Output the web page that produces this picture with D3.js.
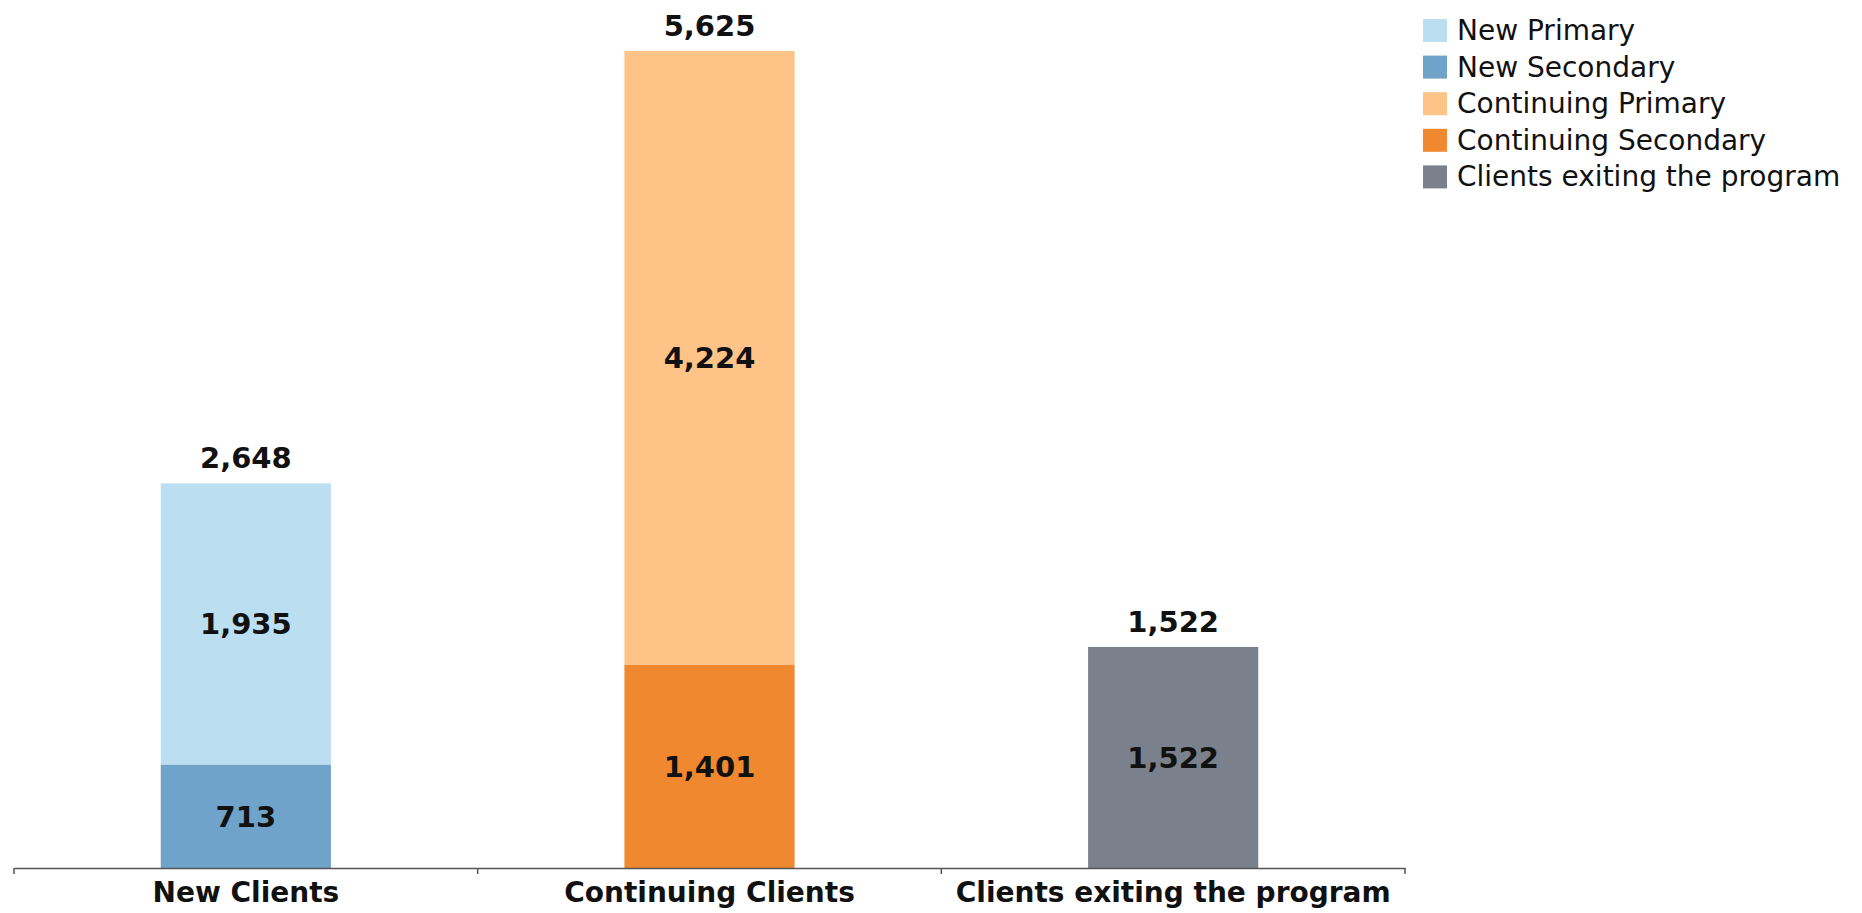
<!DOCTYPE html>
<html>
<head>
<meta charset="utf-8">
<script src="https://cdn.jsdelivr.net/npm/d3@7"></script>
<style>
  body { margin: 0; background: #fff; }
  text { font-family: "DejaVu Sans", Verdana, sans-serif; }
</style>
</head>
<body>
<div id="chart"></div>
<script>
// data
const categories = ["New Clients", "Continuing Clients", "Clients exiting the program"]
const seriesNames = ["New Primary", "New Secondary", "Continuing Primary", "Continuing Secondary", "Clients exiting the program"]
const newPrimary = [1935, 0, 0]
const newSecondary = [713, 0, 0]
const continuingPrimary = [0, 4224, 0]
const continuingSecondary = [0, 1401, 0]
const exiting = [0, 0, 1522]
const totals = [2648, 5625, 1522]

const colors = {
  "New Primary": "#bbdff1",
  "New Secondary": "#6fa3c9",
  "Continuing Primary": "#fec386",
  "Continuing Secondary": "#f0882f",
  "Clients exiting the program": "#7a808c"
}

const width = 1862, height = 913
const margin = { left: 14, right: 457, top: 51, bottom: 45 }

let rows = categories.map((c, i) => ({
  category: c,
  "New Primary": newPrimary[i],
  "New Secondary": newSecondary[i],
  "Continuing Primary": continuingPrimary[i],
  "Continuing Secondary": continuingSecondary[i],
  "Clients exiting the program": exiting[i]
}))

// secondary on the bottom, primary on top
let stackKeys = ["New Secondary", "New Primary", "Continuing Secondary", "Continuing Primary", "Clients exiting the program"]
let stacked = d3.stack().keys(stackKeys)(rows)

let x = d3.scaleBand()
  .domain(categories)
  .range([margin.left, width - margin.right])
  .paddingInner(0)
  .paddingOuter(0)

let y = d3.scaleLinear()
  .domain([0, d3.max(totals)])
  .range([height - margin.bottom, margin.top])

let barW = x.bandwidth() * 0.367

let svg = d3.select("#chart")
  .append("svg")
  .attr("width", width)
  .attr("height", height)

let layers = svg.append("g").selectAll("g")
  .data(stacked)
  .join("g")
  .attr("fill", d => colors[d.key])

layers.selectAll("rect")
  .data(d => d.filter(s => s[1] - s[0] > 0))
  .join("rect")
  .attr("x", d => x(d.data.category) + (x.bandwidth() - barW) / 2)
  .attr("width", barW)
  .attr("y", d => y(d[1]))
  .attr("height", d => y(d[0]) - y(d[1]))

// segment values
layers.selectAll("text")
  .data(d => d.filter(s => s[1] - s[0] > 0))
  .join("text")
  .attr("x", d => x(d.data.category) + x.bandwidth() / 2)
  .attr("y", d => (y(d[0]) + y(d[1])) / 2)
  .attr("dy", "0.36em")
  .attr("text-anchor", "middle")
  .attr("font-size", 29)
  .attr("font-weight", "bold")
  .attr("fill", "#111")
  .text(d => d3.format(",")(d[1] - d[0]))

// totals
svg.append("g").selectAll("text")
  .data(totals)
  .join("text")
  .attr("x", (d, i) => x(categories[i]) + x.bandwidth() / 2)
  .attr("y", d => y(d) - 15)
  .attr("text-anchor", "middle")
  .attr("font-size", 29)
  .attr("font-weight", "bold")
  .attr("fill", "#111")
  .text(d => d3.format(",")(d))

// axis
let axis = svg.append("g")
  .attr("transform", `translate(0, ${y(0)})`)
  .call(d3.axisBottom(x).tickSize(0))
axis.select(".domain").attr("stroke", "#555").attr("stroke-width", 1.5)
axis.selectAll(".tick text")
  .attr("font-family", "DejaVu Sans, sans-serif")
  .attr("font-size", 28)
  .attr("font-weight", "bold")
  .attr("fill", "#111")
  .attr("y", 34)
  .attr("dy", 0)

let bounds = categories.map(c => x(c)).concat([x.range()[1]])
axis.selectAll(".bound")
  .data(bounds)
  .join("line")
  .attr("class", "bound")
  .attr("x1", d => d).attr("x2", d => d)
  .attr("y1", 0).attr("y2", 6)
  .attr("stroke", "#555")
  .attr("stroke-width", 1.5)

// legend
let legend = svg.append("g")
  .attr("transform", "translate(1423, 19)")

let item = legend.selectAll("g")
  .data(seriesNames)
  .join("g")
  .attr("transform", (d, i) => `translate(0, ${i * 36.6})`)

item.append("rect")
  .attr("width", 24)
  .attr("height", 23)
  .attr("fill", d => colors[d])

item.append("text")
  .attr("x", 34)
  .attr("y", 21)
  .attr("font-size", 28)
  .attr("fill", "#111")
  .text(d => d)
</script>
</body>
</html>
